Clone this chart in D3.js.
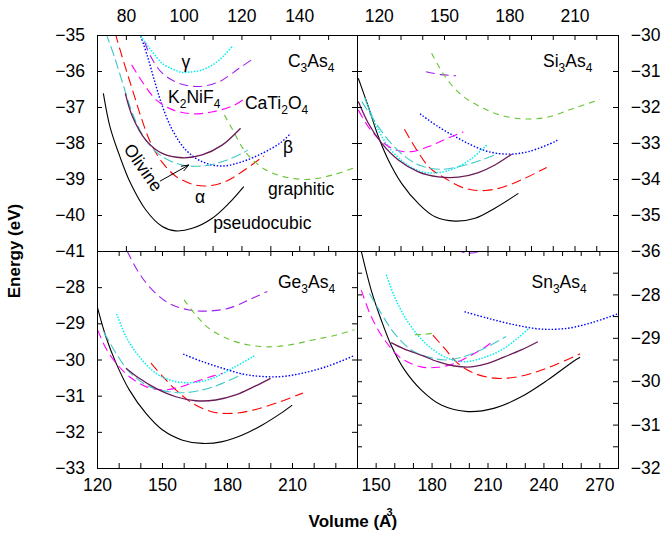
<!DOCTYPE html>
<html>
<head>
<meta charset="utf-8">
<script src="https://cdn.jsdelivr.net/npm/d3@7"></script>
<style>
  body { margin: 0; background: #fff; }
  svg text { font-family: "Liberation Sans", Arial, Helvetica, sans-serif; }
</style>
</head>
<body>
<svg id="chart" width="662" height="537"></svg>
<script>
// Energy-volume curves of A3As4 polymorphs, [volume (Å^3), energy (eV)].
// Every compound lists its curves in the order of `phases`.
const phases = ["pseudocubic", "alpha", "beta", "gamma", "K2NiF4", "CaTi2O4", "graphitic", "olivine", "unlabelled"];

const C3As4 = [
  [[72.2,-36.62],[74.5,-37.55],[77.8,-38.35],[81.5,-39.1],[86.9,-39.86],[92.6,-40.32],[97.2,-40.44],[103,-40.37],[109.9,-40.09],[115.6,-39.68],[120.8,-39.21]],
  [[76.3,-34.95],[79.4,-35.79],[82.3,-36.53],[85.2,-37.27],[88.6,-38.0],[92.6,-38.54],[96.7,-38.89],[99.5,-39.03],[104.1,-39.17],[108.7,-39.19],[114.5,-39.07],[120.2,-38.8],[127.7,-38.36]],
  [[84.8,-34.95],[87.5,-35.6],[90,-36.3],[92.6,-36.97],[96.1,-37.64],[100.7,-38.19],[106.4,-38.52],[113.3,-38.64],[120.2,-38.52],[127.1,-38.29],[133.4,-38.0],[137.1,-37.73]],
  [[84.5,-34.95],[86.9,-35.23],[89.5,-35.5],[92.6,-35.79],[96.3,-35.95],[99.5,-36.04],[102.1,-36.03],[106.4,-35.97],[110,-35.83],[113.6,-35.6],[116.8,-35.32]],
  [[86.5,-35.2],[88.6,-35.6],[92.6,-36.06],[98.4,-36.34],[105.3,-36.43],[112.2,-36.3],[119.1,-35.93],[124.2,-35.65]],
  [[82.0,-35.83],[86.0,-36.34],[90.6,-36.81],[96.3,-37.08],[103.2,-37.19],[110.1,-37.13],[117.0,-36.97],[120.5,-36.8]],
  [[114.1,-37.22],[117.0,-37.64],[120.5,-38.15],[123.9,-38.47],[128.5,-38.75],[135.4,-38.95],[143.4,-39.01],[151.5,-38.89],[160,-38.66]],
  [[73.1,-34.95],[76.0,-35.6],[78.9,-36.34],[82.3,-37.18],[86.9,-37.92],[92.6,-38.38],[99.5,-38.61],[106.4,-38.64],[113.3,-38.52],[120.2,-38.29],[122.2,-38.19]],
  [[79.8,-36.62],[82.3,-37.27],[86.9,-37.92],[92.6,-38.29],[99.5,-38.41],[106.4,-38.33],[113.3,-38.06],[119.7,-37.59]]
];

const Si3As4 = [
  [[110.6,-31.2],[115.2,-31.99],[119.8,-32.82],[124.4,-33.47],[130.5,-34.12],[138.2,-34.68],[145.9,-35.05],[155.1,-35.17],[164.3,-35.09],[173.4,-34.81],[184.2,-34.4]],
  [[131.8,-32.62],[137.4,-33.19],[143.6,-33.7],[150.5,-33.98],[159.7,-34.26],[168.9,-34.32],[178.0,-34.21],[187.2,-33.98],[197.2,-33.68]],
  [[139.0,-32.19],[147.4,-32.55],[155.1,-32.82],[162.7,-33.06],[170.4,-33.24],[179.6,-33.31],[188.8,-33.24],[201.0,-32.96],[202.6,-32.9]],
  [[113.7,-31.76],[118.3,-32.45],[124.4,-33.1],[132.1,-33.56],[139.7,-33.8],[147.4,-33.82],[155.1,-33.7],[162.7,-33.43],[169.6,-33.06]],
  [[141.7,-31.02],[148.5,-31.1],[155.5,-31.13]],
  [[110.6,-32.08],[115.2,-32.55],[121.4,-32.96],[127.5,-33.19],[135.1,-33.24],[142.8,-33.1],[150.5,-32.9],[158.9,-32.69]],
  [[144.3,-30.51],[148.2,-30.93],[152.8,-31.34],[158.9,-31.71],[166.6,-31.99],[175.7,-32.22],[186.5,-32.33],[197.2,-32.29],[209.5,-32.04],[221.7,-31.79]],
  [[112.2,-31.85],[118.3,-32.41],[124.4,-32.92],[132.1,-33.38],[139.7,-33.64],[148.9,-33.73],[158.1,-33.64],[167.3,-33.47],[175.0,-33.29]],
  [[110.6,-31.85],[115.2,-32.45],[121.4,-33.01],[129.0,-33.47],[138.2,-33.8],[147.4,-33.94],[156.6,-33.95],[165.8,-33.82],[173.4,-33.61],[181.1,-33.31]]
];

const Ge3As4 = [
  [[120.3,-28.58],[124.1,-29.37],[128.8,-30.1],[134.9,-30.84],[142.6,-31.49],[150.3,-31.95],[159.5,-32.23],[168.7,-32.32],[177.9,-32.27],[187.1,-32.09],[196.3,-31.81],[204.8,-31.49],[210.1,-31.26]],
  [[144.9,-30.1],[150.3,-30.47],[156.4,-30.84],[164.1,-31.21],[173.3,-31.45],[182.5,-31.49],[192.0,-31.4],[204.3,-31.17],[215.0,-30.93]],
  [[159.8,-29.85],[168.7,-30.06],[177.9,-30.24],[187.1,-30.4],[196.3,-30.47],[205.5,-30.47],[214.7,-30.38],[225.8,-30.2],[238.5,-29.9]],
  [[129.1,-28.74],[133.4,-29.37],[139.5,-29.92],[147.2,-30.38],[154.9,-30.59],[164.1,-30.64],[173.3,-30.52],[182.5,-30.24],[193.2,-29.88]],
  [[133.9,-27.0],[139.5,-27.62],[145.6,-28.08],[153.3,-28.45],[162.5,-28.63],[171.7,-28.66],[180.9,-28.58],[190.1,-28.35],[198.6,-28.12]],
  [[120.3,-29.18],[124.1,-29.69],[128.8,-30.1],[134.9,-30.47],[142.6,-30.75],[150.3,-30.84],[157.9,-30.77],[165.6,-30.61],[173.3,-30.46],[177.9,-30.38]],
  [[160.2,-28.35],[165.6,-28.77],[171.7,-29.14],[180.9,-29.44],[190.1,-29.6],[199.4,-29.65],[208.6,-29.6],[219.6,-29.46],[230,-29.33],[238.8,-29.18]],
  [[123.2,-29.25],[128.8,-29.83],[134.9,-30.34],[142.6,-30.7],[150.3,-30.86],[159.5,-30.92],[168.7,-30.84],[177.9,-30.66],[187.1,-30.4]],
  [[133.4,-30.24],[139.5,-30.52],[147.2,-30.8],[156.4,-31.03],[165.6,-31.14],[174.8,-31.12],[184.0,-30.98],[193.2,-30.73],[200.1,-30.52]]
];

const Sn3As4 = [
  [[142.0,-26.95],[147.6,-27.9],[153,-28.59],[158.3,-29.17],[165.5,-29.74],[174.4,-30.2],[185.2,-30.55],[199.4,-30.7],[213.8,-30.62],[228.1,-30.36],[242.4,-29.97],[255.8,-29.55],[259.7,-29.45]],
  [[180.7,-28.94],[186.9,-29.24],[194.1,-29.59],[203.0,-29.82],[213.8,-29.93],[224.5,-29.91],[235.2,-29.8],[245.9,-29.63],[259.7,-29.37]],
  [[197.7,-28.4],[210.2,-28.55],[224.5,-28.7],[238.8,-28.8],[253.1,-28.78],[266,-28.65],[279.9,-28.45]],
  [[155.7,-27.55],[160.1,-28.05],[165.5,-28.51],[172.6,-28.94],[179.8,-29.24],[188.7,-29.47],[197.7,-29.55],[208.4,-29.45],[219.1,-29.24],[232.5,-28.77]],
  [[193,-26.97],[198,-27.04],[203,-27.04],[208,-26.97]],
  [[142.3,-27.9],[147.6,-28.51],[154.8,-29.05],[163.7,-29.47],[174.4,-29.67],[183.3,-29.68],[192.3,-29.59],[201.3,-29.4],[210.2,-29.17],[213,-29.07]],
  [[171,-28.93],[176.5,-28.92],[182.5,-28.88]],
  [[146.7,-27.98],[153,-28.44],[160.1,-28.9],[169.1,-29.28],[178.0,-29.44],[187,-29.51],[195.9,-29.45],[208.4,-29.24],[220.0,-28.97]],
  [[158.3,-29.11],[165.5,-29.26],[174.4,-29.4],[183.3,-29.55],[192.3,-29.65],[201.3,-29.67],[210.2,-29.59],[219.1,-29.44],[228.1,-29.28],[237.0,-29.09]]
];

// Tick labels printed on each panel
const c3As4XLabels = [80, 100, 120, 140];
const c3As4YLabels = [-35, -36, -37, -38, -39, -40, -41];
const si3As4XLabels = [120, 150, 180, 210];
const si3As4YLabels = [-30, -31, -32, -33, -34, -35, -36];
const ge3As4XLabels = [120, 150, 180, 210];
const ge3As4YLabels = [-28, -29, -30, -31, -32, -33];
const sn3As4XLabels = [150, 180, 210, 240, 270];
const sn3As4YLabels = [-28, -29, -30, -31, -32];

// Line style of each phase
const phaseStyle = {
  pseudocubic: { color: "#000000", dash: null,    width: 1.1 },
  alpha:       { color: "#ff0000", dash: "10,5",  width: 1.1 },
  beta:        { color: "#0000ff", dash: "1.5,1.8", width: 1.4 },
  gamma:       { color: "#00eeee", dash: "1.5,1.5", width: 1.5 },
  K2NiF4:      { color: "#a020f0", dash: "9,5",   width: 1.1 },
  CaTi2O4:     { color: "#ff00ff", dash: "9,5",   width: 1.1 },
  graphitic:   { color: "#66c433", dash: "6,5",   width: 1.1 },
  olivine:     { color: "#40c8c8", dash: "10,4",  width: 1.1 },
  unlabelled:  { color: "#6a1b58", dash: null,    width: 1.3 }
};

const X0 = 97, XM = 357, X1 = 618, Y0 = 35, YM = 251, Y1 = 468;
const TICK_FONT = 17.5;

const panels = [
  { id: "c3as4", title: [["C", 0], ["3", 1], ["As", 0], ["4", 1]], titleAt: [136.1, -35.89],
    curves: C3As4, xr: [X0, XM], yr: [Y0, YM], xd: [70, 160], yd: [-41, -35],
    xTicks: d3.range(80, 160, 10), yTicks: d3.range(-41, -34.9, 1),
    top: c3As4XLabels, left: c3As4YLabels },
  { id: "si3as4", title: [["Si", 0], ["3", 1], ["As", 0], ["4", 1]], titleAt: [195.5, -30.89],
    curves: Si3As4, xr: [XM, X1], yr: [Y0, YM], xd: [110, 230], yd: [-36, -30],
    xTicks: d3.range(120, 230, 10), yTicks: d3.range(-36, -29.9, 1),
    top: si3As4XLabels, right: si3As4YLabels },
  { id: "ge3as4", title: [["Ge", 0], ["3", 1], ["As", 0], ["4", 1]], titleAt: [203.5, -28.02],
    curves: Ge3As4, xr: [X0, XM], yr: [YM, Y1], xd: [120, 240], yd: [-33, -27],
    xTicks: d3.range(120, 240.1, 10), yTicks: d3.range(-33, -26.9, 1),
    bottom: ge3As4XLabels, left: ge3As4YLabels },
  { id: "sn3as4", title: [["Sn", 0], ["3", 1], ["As", 0], ["4", 1]], titleAt: [233.6, -27.85],
    curves: Sn3As4, xr: [XM, X1], yr: [YM, Y1], xd: [140, 280], yd: [-32, -27],
    xTicks: d3.range(150, 280, 10), yTicks: d3.range(-32, -26.9, 0.5),
    bottom: sn3As4XLabels, right: sn3As4YLabels }
];

const svg = d3.select("#chart");
const fmt = d3.format("d");

// Text built from [string, isSubscript] parts
function richText(sel, parts, size, subSize, shift) {
  let lowered = false;
  parts.forEach(([s, sub]) => {
    const t = sel.append("tspan").text(s);
    if (sub) {
      t.attr("font-size", subSize).attr("dy", lowered ? 0 : shift);
      lowered = true;
    } else {
      t.attr("font-size", size).attr("dy", lowered ? -shift : 0);
      lowered = false;
    }
  });
}

function drawAxis(g, axisFn, scale, ticks, labels, transform, pad) {
  const ax = axisFn(scale)
    .tickValues(ticks)
    .tickSizeInner(-5)
    .tickSizeOuter(0)
    .tickPadding(pad)
    .tickFormat(d => labels && labels.some(l => Math.abs(l - d) < 1e-9) ? fmt(d) : "");
  const a = g.append("g").attr("transform", transform).call(ax);
  a.select(".domain").remove();
  a.selectAll("line").attr("stroke", "#000").attr("stroke-width", 1);
  a.selectAll("text")
    .attr("font-size", TICK_FONT)
    .attr("font-family", '"Liberation Sans", Arial, Helvetica, sans-serif')
    .attr("fill", "#000");
}

const scales = {};

panels.forEach(p => {
  const x = d3.scaleLinear().domain(p.xd).range(p.xr);
  const y = d3.scaleLinear().domain(p.yd).range([p.yr[1], p.yr[0]]);
  scales[p.id] = { x, y };
  const g = svg.append("g");

  g.append("clipPath").attr("id", "clip-" + p.id)
    .append("rect")
    .attr("x", p.xr[0]).attr("y", p.yr[0])
    .attr("width", p.xr[1] - p.xr[0]).attr("height", p.yr[1] - p.yr[0]);

  const line = d3.line()
    .x(d => x(d[0])).y(d => y(d[1]))
    .curve(d3.curveCatmullRom.alpha(0.5));

  const plot = g.append("g").attr("clip-path", "url(#clip-" + p.id + ")");
  p.curves.forEach((pts, i) => {
    const st = phaseStyle[phases[i]];
    plot.append("path")
      .attr("d", line(pts))
      .attr("fill", "none")
      .attr("stroke", st.color)
      .attr("stroke-width", st.width)
      .attr("stroke-dasharray", st.dash);
  });

  drawAxis(g, d3.axisBottom, x, p.xTicks, p.bottom, `translate(0,${p.yr[1]})`, 10.3);
  drawAxis(g, d3.axisTop, x, p.xTicks, p.top, `translate(0,${p.yr[0]})`, 13.3);
  drawAxis(g, d3.axisLeft, y, p.yTicks, p.left, `translate(${p.xr[0]},0)`, 12);
  drawAxis(g, d3.axisRight, y, p.yTicks, p.right, `translate(${p.xr[1]},0)`, 12.7);

  g.append("rect")
    .attr("x", p.xr[0] + 0.5).attr("y", p.yr[0] + 0.5)
    .attr("width", p.xr[1] - p.xr[0]).attr("height", p.yr[1] - p.yr[0])
    .attr("fill", "none").attr("stroke", "#000").attr("stroke-width", 1);

  const title = g.append("text")
    .attr("x", x(p.titleAt[0])).attr("y", y(p.titleAt[1]))
    .attr("fill", "#000");
  richText(title, p.title, 17.5, 12, 5);
});

// Phase labels on the C3As4 panel
const cx = scales.c3as4.x, cy = scales.c3as4.y;
const phaseLabels = [
  { parts: [["γ", 0]], at: [100.8, -35.93], anchor: "middle" },
  { parts: [["K", 0], ["2", 1], ["NiF", 0], ["4", 1]], at: [94.6, -36.89], anchor: "start" },
  { parts: [["CaTi", 0], ["2", 1], ["O", 0], ["4", 1]], at: [121.2, -37.06], anchor: "start" },
  { parts: [["β", 0]], at: [136.1, -38.28], anchor: "middle" },
  { parts: [["α", 0]], at: [105.7, -39.67], anchor: "middle" },
  { parts: [["graphitic", 0]], at: [129.2, -39.44], anchor: "start" },
  { parts: [["pseudocubic", 0]], at: [110.2, -40.39], anchor: "start" }
];
phaseLabels.forEach(l => {
  const t = svg.append("text")
    .attr("x", cx(l.at[0])).attr("y", cy(l.at[1]))
    .attr("text-anchor", l.anchor).attr("fill", "#000");
  richText(t, l.parts, 17.5, 12, 5);
});

svg.append("text")
  .attr("transform", `translate(${cx(79.0)},${cy(-38.17)}) rotate(55)`)
  .attr("font-size", 17.5).attr("fill", "#000")
  .text("Olivine");

// Arrow from the Olivine label to its curve
const tail = [cx(91.8), cy(-39.06)], head = [cx(101.8), cy(-38.61)];
const ang = Math.atan2(head[1] - tail[1], head[0] - tail[0]);
const hl = 8, ha = 0.35;
svg.append("path")
  .attr("d", `M${tail[0]},${tail[1]}L${head[0]},${head[1]}` +
    `M${head[0] - hl * Math.cos(ang - ha)},${head[1] - hl * Math.sin(ang - ha)}L${head[0]},${head[1]}` +
    `L${head[0] - hl * Math.cos(ang + ha)},${head[1] - hl * Math.sin(ang + ha)}`)
  .attr("fill", "none").attr("stroke", "#000").attr("stroke-width", 1);

// Axis titles
svg.append("text")
  .attr("transform", "translate(19.5,251) rotate(-90)")
  .attr("text-anchor", "middle")
  .attr("font-size", 17).attr("font-weight", "bold").attr("fill", "#000")
  .text("Energy (eV)");

const vol = svg.append("text")
  .attr("x", 308.6).attr("y", 527)
  .attr("font-size", 17).attr("font-weight", "bold").attr("fill", "#000");
vol.append("tspan").text("Volume (A");
vol.append("tspan").attr("font-size", 11).attr("dx", -5).attr("dy", -11).text("3");
vol.append("tspan").attr("dx", -1).attr("dy", 11).text(")");
</script>
</body>
</html>
